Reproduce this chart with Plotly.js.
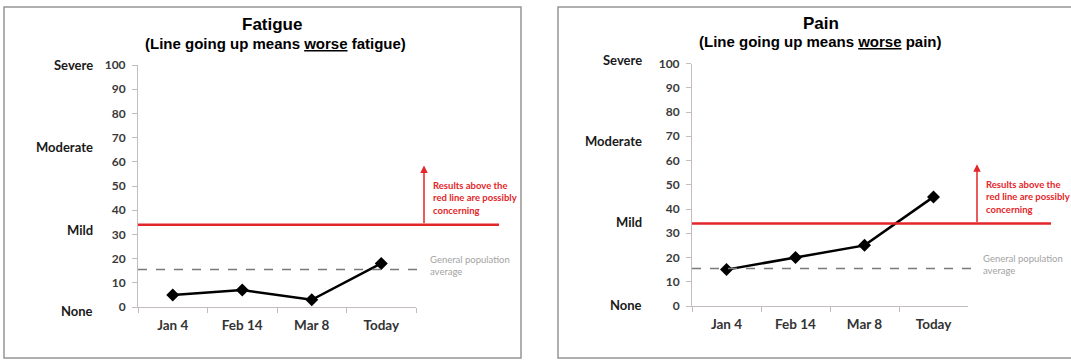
<!DOCTYPE html>
<html>
<head>
<meta charset="utf-8">
<script src="https://cdn.plot.ly/plotly-3.0.1.min.js"></script>
<style>
  html, body { margin: 0; padding: 0; background: #ffffff; }
  #chart { width: 1071px; height: 360px; }
</style>
</head>
<body>
<div id="chart"></div>
<script>
// Visit dates shared by both symptom panels
const categories = ['Jan 4', 'Feb 14', 'Mar 8', 'Today'];

// Symptom scores (0 = none, 100 = severe)
const fatigueScores = [5, 7, 3, 18];
const painScores = [15, 20, 25, 45];

// Reference levels
const concernThreshold = 34;     // red line: possibly concerning above this
const populationAverage = 15.5;  // dashed line: general population average
const arrowTip = 58.5;           // top of the "above the red line" arrow

// Score ticks
const scoreTicks = [0, 10, 20, 30, 40, 50, 60, 70, 80, 90, 100];
const scoreRange = [0, 100];

// Severity words placed beside the score axis
const severityLabels = ['Severe', 'Moderate', 'Mild', 'None'];
const fatigueSeverityAt = [100, 66, 32, -1.5];
const painSeverityAt = [101.5, 68, 34.5, 0.5];

// Panel text
const fatigueTitle = 'Fatigue';
const fatigueSubtitle = '(Line going up means <u>worse</u> fatigue)';
const painTitle = 'Pain';
const painSubtitle = '(Line going up means <u>worse</u> pain)';
const concernNote = 'Results above the<br>red line are possibly<br>concerning';
const averageNote = 'General population<br>average';

// ---- layout helpers (pixel -> paper) ----
const W = 1071, H = 360;
const px = v => v / W;
const py = v => 1 - v / H;

const RED = '#e3262a';
const AXIS = '#c3bcbc';
const LABEL_FONT = 'Lato, "Open Sans", sans-serif';
const TITLE_FONT = '"Liberation Sans", Arial, sans-serif';

function xAxis(domain) {
  return {
    domain: domain,
    type: 'category',
    range: [-0.5, 3.5],
    tickson: 'boundaries',
    ticks: 'outside',
    ticklen: 5,
    tickcolor: AXIS,
    showline: true,
    linecolor: AXIS,
    linewidth: 1,
    showgrid: false,
    zeroline: false,
    fixedrange: true,
    ticklabelstandoff: 6,
    tickfont: { family: LABEL_FONT, size: 13.5, color: '#333333', weight: 'bold' }
  };
}

function yAxis(domain, anchor) {
  return {
    domain: domain,
    anchor: anchor,
    range: scoreRange,
    tickmode: 'array',
    tickvals: scoreTicks,
    ticktext: scoreTicks.map(String),
    ticks: 'outside',
    ticklen: 5,
    tickcolor: AXIS,
    showline: true,
    linecolor: AXIS,
    linewidth: 1,
    showgrid: false,
    zeroline: false,
    fixedrange: true,
    ticklabelstandoff: 4,
    tickfont: { family: LABEL_FONT, size: 12, color: '#3a3a3a', weight: 'bold' }
  };
}

function scoreTrace(scores, xa, ya) {
  return {
    type: 'scatter',
    mode: 'lines+markers',
    x: categories,
    y: scores,
    xaxis: xa,
    yaxis: ya,
    cliponaxis: false,
    line: { color: '#000000', width: 2.5 },
    marker: { symbol: 'diamond', size: 10, color: '#000000' },
    hoverinfo: 'x+y'
  };
}

// Everything that belongs to one panel: frame, reference lines, notes, titles
function panelDecor(p) {
  const shapes = [
    { type: 'rect', xref: 'paper', yref: 'paper',
      x0: px(p.frame[0]), x1: px(p.frame[1]), y0: py(p.frame[3]), y1: py(p.frame[2]),
      line: { color: '#959595', width: 1.5 }, fillcolor: 'rgba(0,0,0,0)', layer: 'below' },
    { type: 'line', xref: 'paper', yref: p.ya,
      x0: px(p.axisLeft), x1: px(p.redEnd), y0: concernThreshold, y1: concernThreshold,
      line: { color: RED, width: 2.5 } },
    { type: 'line', xref: 'paper', yref: p.ya,
      x0: px(p.axisLeft), x1: px(p.dashEnd), y0: populationAverage, y1: populationAverage,
      line: { color: '#7a7a7a', width: 1.5, dash: 'dash' } }
  ];

  const annotations = [
    // arrow pointing up from the red line
    { xref: 'paper', yref: p.ya, x: px(p.arrowX), y: arrowTip,
      axref: 'pixel', ax: 0, ayref: p.ya, ay: concernThreshold,
      text: '', showarrow: true, arrowhead: 2, arrowsize: 1, arrowwidth: 1.5, arrowcolor: RED },
    { xref: 'paper', yref: p.ya, x: px(p.arrowX + 7), y: 45,
      xanchor: 'left', yanchor: 'middle', align: 'left', showarrow: false,
      text: concernNote,
      font: { family: LABEL_FONT, size: 9.5, color: RED, weight: 'bold' } },
    { xref: 'paper', yref: p.ya, x: px(p.dashEnd + 6), y: 17,
      xanchor: 'left', yanchor: 'middle', align: 'left', showarrow: false,
      text: averageNote,
      font: { family: LABEL_FONT, size: 9.5, color: '#a3a3a3' } },
    // titles
    { xref: 'paper', yref: 'paper', x: px(p.titleX), y: py(p.titleY),
      xanchor: 'center', yanchor: 'middle', showarrow: false, text: p.title,
      font: { family: TITLE_FONT, size: 17, color: '#000000', weight: 'bold' } },
    { xref: 'paper', yref: 'paper', x: px(p.subX), y: py(p.subY),
      xanchor: 'center', yanchor: 'middle', showarrow: false, text: p.subtitle,
      font: { family: TITLE_FONT, size: 15, color: '#000000', weight: 'bold' } }
  ];

  // severity words sit at score levels, some just past the axis ends,
  // so they are placed on the axis domain (0..1 spans the score range)
  const span = scoreRange[1] - scoreRange[0];
  severityLabels.forEach((lab, i) => {
    annotations.push({
      xref: 'paper', yref: p.ya + ' domain', x: px(p.levelRight),
      y: (p.levels[i] - scoreRange[0]) / span,
      xanchor: 'right', yanchor: 'middle', showarrow: false, text: lab,
      font: { family: LABEL_FONT, size: 13, color: '#1a1a1a', weight: 'bold' }
    });
  });

  return { shapes, annotations };
}

const fatiguePanel = panelDecor({
  ya: 'y', frame: [4, 521, 7, 358], axisLeft: 138, redEnd: 499, dashEnd: 422,
  arrowX: 424, title: fatigueTitle, subtitle: fatigueSubtitle,
  titleX: 272, titleY: 25, subX: 276, subY: 43,
  levelRight: 95, levels: fatigueSeverityAt
});

const painPanel = panelDecor({
  ya: 'y2', frame: [558, 1080, 7, 358], axisLeft: 692, redEnd: 1051, dashEnd: 975,
  arrowX: 977, title: painTitle, subtitle: painSubtitle,
  titleX: 821, titleY: 23, subX: 820, subY: 41,
  levelRight: 644, levels: painSeverityAt
});

const layout = {
  width: W,
  height: H,
  margin: { l: 0, r: 0, t: 0, b: 0 },
  paper_bgcolor: '#ffffff',
  plot_bgcolor: 'rgba(0,0,0,0)',
  showlegend: false,
  font: { family: LABEL_FONT },
  xaxis: Object.assign(xAxis([px(138), px(416)]), { anchor: 'y' }),
  yaxis: yAxis([py(307), py(65)], 'x'),
  xaxis2: Object.assign(xAxis([px(692), px(968)]), { anchor: 'y2' }),
  yaxis2: yAxis([py(306), py(63.5)], 'x2'),
  shapes: fatiguePanel.shapes.concat(painPanel.shapes),
  annotations: fatiguePanel.annotations.concat(painPanel.annotations)
};

Plotly.newPlot('chart', [
  scoreTrace(fatigueScores, 'x', 'y'),
  scoreTrace(painScores, 'x2', 'y2')
], layout, { displayModeBar: false, staticPlot: true });
</script>
</body>
</html>
